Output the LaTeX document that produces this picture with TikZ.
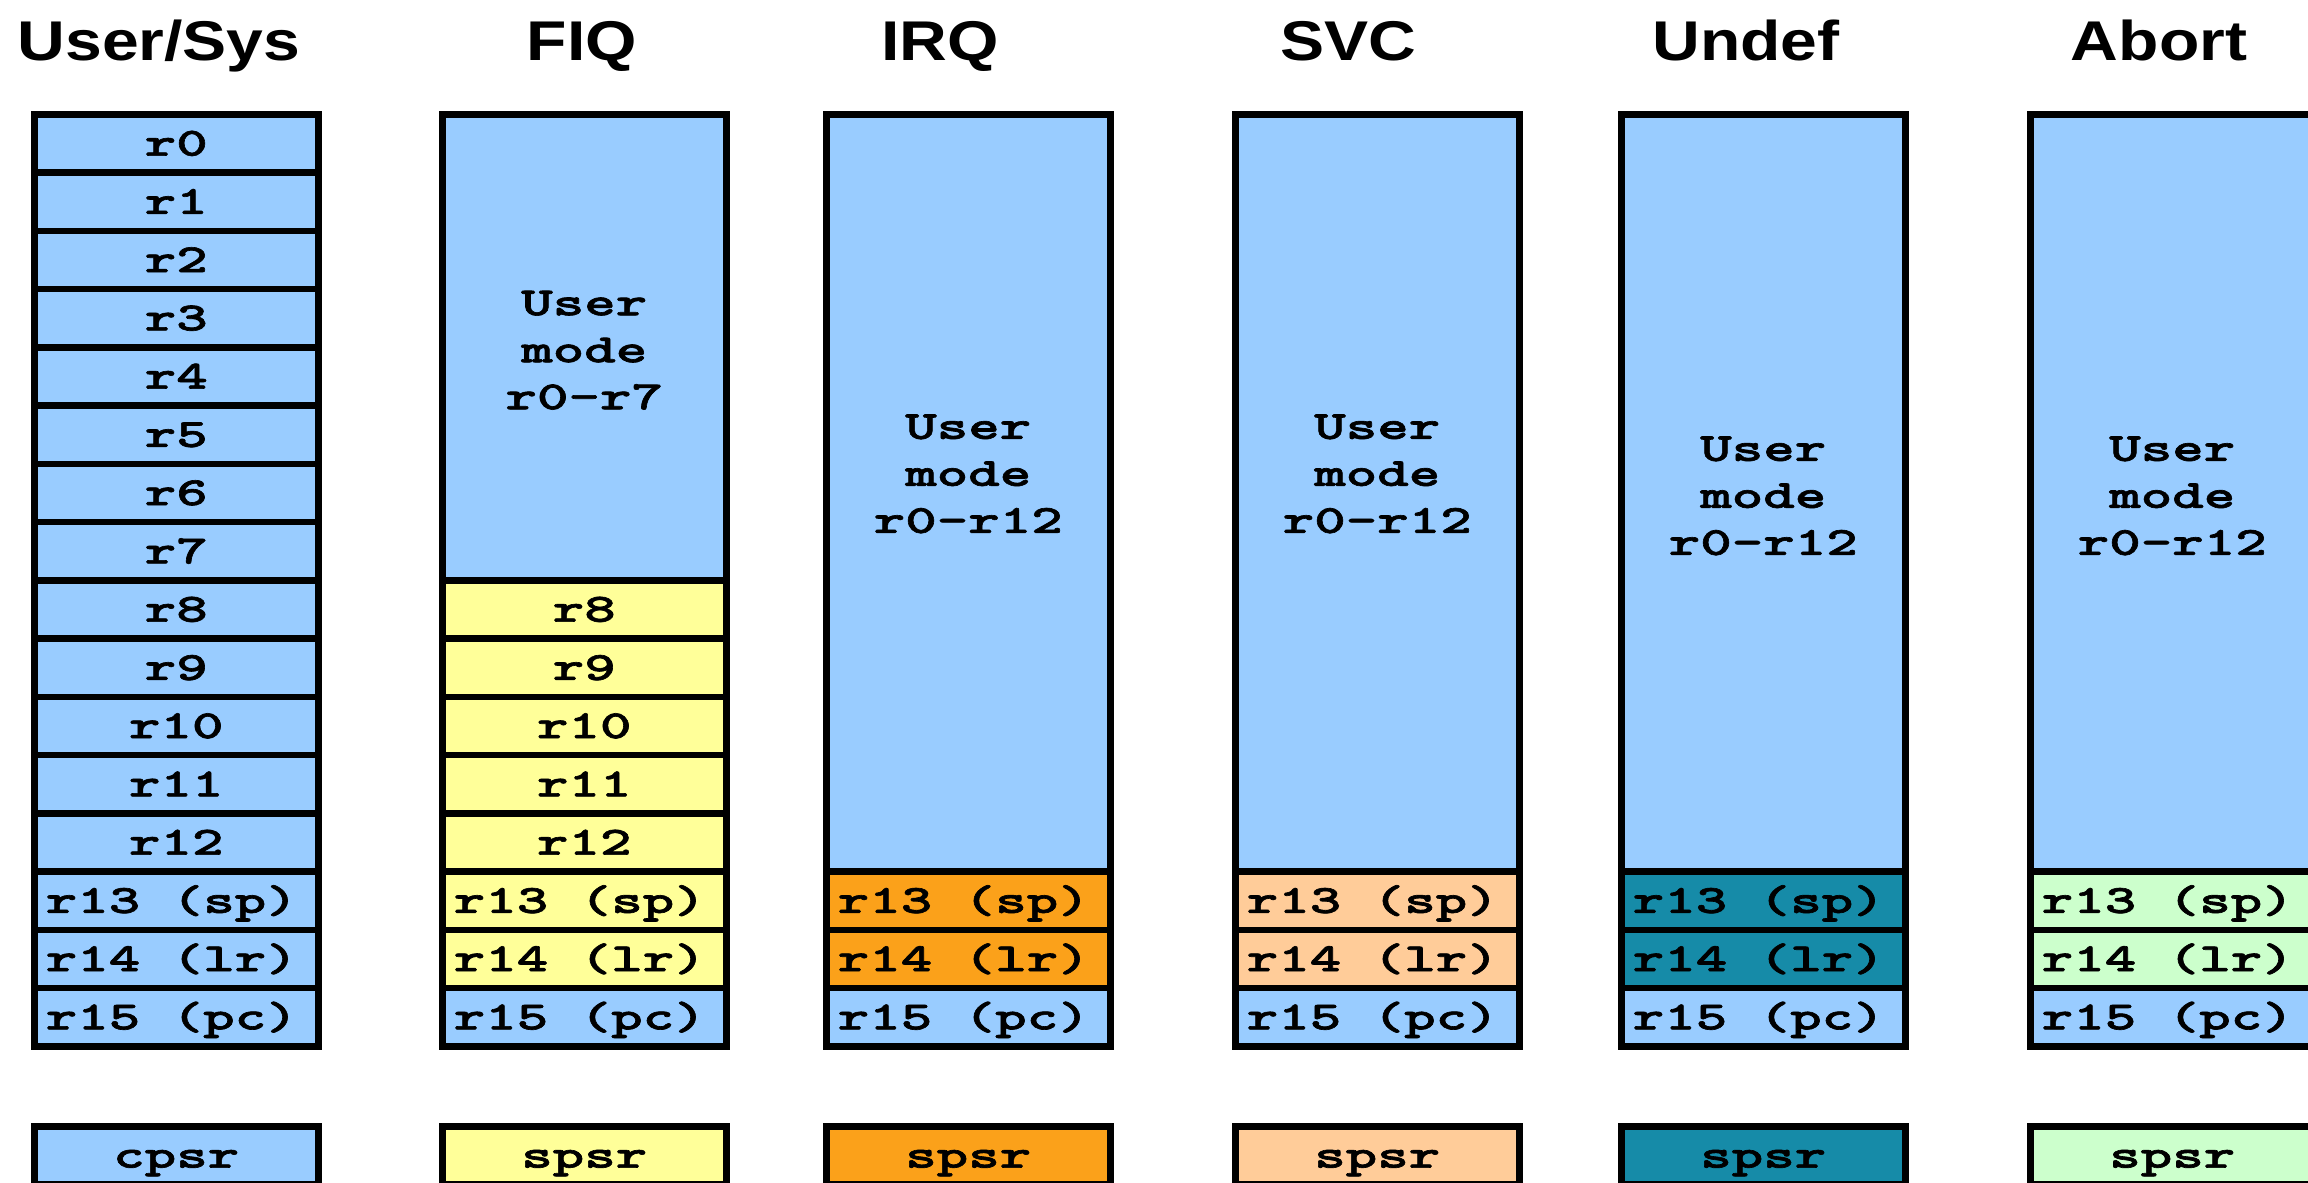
\documentclass[tikz,border=0pt]{standalone}
\usepackage{fontspec}
\newfontfamily\titlefont{Liberation Sans}[FakeStretch=1.18]
\newfontfamily\regfont{lmmonolt10-bold}[Extension=.otf, FakeStretch=1.5, FakeBold=1.6]

\definecolor{bankblue}{HTML}{99CCFF}
\definecolor{fiqyellow}{HTML}{FFFF99}
\definecolor{irqorange}{HTML}{FBA11A}
\definecolor{svcpeach}{HTML}{FFCC99}
\definecolor{undteal}{HTML}{168BA8}
\definecolor{abtgreen}{HTML}{CCFFCC}

% pad wide labels on the right so they sit a little left of centre
\newcommand\wlab[1]{#1\kern9pt}
\def\rowh{58.25}

\tikzset{
  reg/.style={draw=black, line width=6.5pt, anchor=north west, inner sep=0pt,
    minimum width=284pt, minimum height=58.25pt,
    text height=24.5pt, text depth=0pt,
    font=\regfont\fontsize{40}{47}\selectfont},
  blk/.style={draw=black, line width=6.5pt, anchor=north west, inner sep=0pt,
    minimum width=284pt, fill=bankblue},
  blktxt/.style={align=center, inner sep=0pt,
    font=\regfont\fontsize{40}{47}\selectfont},
  ttl/.style={anchor=base, inner sep=0pt,
    font=\titlefont\bfseries\fontsize{56}{60}\selectfont}
}

\begin{document}
\begin{tikzpicture}[x=1pt, y=-1pt]
\useasboundingbox (0,0) rectangle (2308,1183);
\clip (0,0) rectangle (2308,1183);

% mode titles
\node[ttl] (tus)  at (159,60)  {User/Sys};
\node[ttl] (tfiq) at (582,60)  {FIQ};
\node[ttl] (tirq) at (940,60)  {IRQ};
\node[ttl] (tsvc) at (1348,60) {SVC};
\node[ttl] (tund) at (1746,60) {Undef};
\node[ttl] (tabt) at (2159,60) {Abort};

% User/Sys bank: all sixteen registers
\foreach \i in {0,...,12}
  \node[reg, fill=bankblue] (us\i) at (31,{111+\i*\rowh}) {r\i};
\node[reg, fill=bankblue] (us13) at (31,{111+13*\rowh}) {\wlab{r13 (sp)}};
\node[reg, fill=bankblue] (us14) at (31,{111+14*\rowh}) {\wlab{r14 (lr)}};
\node[reg, fill=bankblue] (us15) at (31,{111+15*\rowh}) {\wlab{r15 (pc)}};
\node[reg, fill=bankblue] (uspsr) at (31,1123) {cpsr};

% FIQ bank: r8-r14 banked
\node[blk, minimum height=466pt] (fqblk) at (439,111) {};
\node[blktxt, yshift=-3pt] (fqtxt) at (fqblk.center) {User\\mode\\r0-r7};
\foreach \i in {8,...,12}
  \node[reg, fill=fiqyellow] (fq\i) at (439,{111+\i*\rowh}) {r\i};
\node[reg, fill=fiqyellow] (fq13) at (439,{111+13*\rowh}) {\wlab{r13 (sp)}};
\node[reg, fill=fiqyellow] (fq14) at (439,{111+14*\rowh}) {\wlab{r14 (lr)}};
\node[reg, fill=bankblue]  (fq15) at (439,{111+15*\rowh}) {\wlab{r15 (pc)}};
\node[reg, fill=fiqyellow] (fqpsr) at (439,1123) {spsr};

% IRQ bank
\node[blk, minimum height=757.25pt] (irblk) at (823,111) {};
\node[blktxt, yshift=19pt] (irtxt) at (irblk.center) {User\\mode\\r0-r12};
\node[reg, fill=irqorange] (ir13) at (823,{111+13*\rowh}) {\wlab{r13 (sp)}};
\node[reg, fill=irqorange] (ir14) at (823,{111+14*\rowh}) {\wlab{r14 (lr)}};
\node[reg, fill=bankblue]  (ir15) at (823,{111+15*\rowh}) {\wlab{r15 (pc)}};
\node[reg, fill=irqorange] (irpsr) at (823,1123) {spsr};

% SVC bank
\node[blk, minimum height=757.25pt] (svblk) at (1232,111) {};
\node[blktxt, yshift=19pt] (svtxt) at (svblk.center) {User\\mode\\r0-r12};
\node[reg, fill=svcpeach] (sv13) at (1232,{111+13*\rowh}) {\wlab{r13 (sp)}};
\node[reg, fill=svcpeach] (sv14) at (1232,{111+14*\rowh}) {\wlab{r14 (lr)}};
\node[reg, fill=bankblue] (sv15) at (1232,{111+15*\rowh}) {\wlab{r15 (pc)}};
\node[reg, fill=svcpeach] (svpsr) at (1232,1123) {spsr};

% Undef bank
\node[blk, minimum height=757.25pt] (unblk) at (1618,111) {};
\node[blktxt, yshift=-3pt] (untxt) at (unblk.center) {User\\mode\\r0-r12};
\node[reg, fill=undteal]  (un13) at (1618,{111+13*\rowh}) {\wlab{r13 (sp)}};
\node[reg, fill=undteal]  (un14) at (1618,{111+14*\rowh}) {\wlab{r14 (lr)}};
\node[reg, fill=bankblue] (un15) at (1618,{111+15*\rowh}) {\wlab{r15 (pc)}};
\node[reg, fill=undteal]  (unpsr) at (1618,1123) {spsr};

% Abort bank
\node[blk, minimum height=757.25pt] (abblk) at (2027,111) {};
\node[blktxt, yshift=-3pt] (abtxt) at (abblk.center) {User\\mode\\r0-r12};
\node[reg, fill=abtgreen] (ab13) at (2027,{111+13*\rowh}) {\wlab{r13 (sp)}};
\node[reg, fill=abtgreen] (ab14) at (2027,{111+14*\rowh}) {\wlab{r14 (lr)}};
\node[reg, fill=bankblue] (ab15) at (2027,{111+15*\rowh}) {\wlab{r15 (pc)}};
\node[reg, fill=abtgreen] (abpsr) at (2027,1123) {spsr};
\end{tikzpicture}
\end{document}
